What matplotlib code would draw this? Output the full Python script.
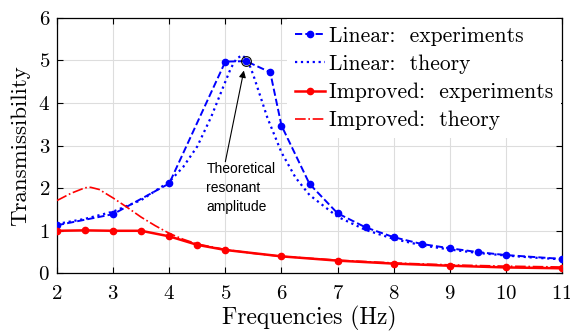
import matplotlib
matplotlib.use("Agg")
import matplotlib.pyplot as plt

# Data
lin_exp_f = [2, 3, 4, 5, 5.37, 5.8, 6, 6.5, 7, 7.5, 8, 8.5, 9, 9.5, 10, 11]
lin_exp_t = [1.13, 1.39, 2.11, 4.97, 4.98, 4.72, 3.47, 2.10, 1.41, 1.08,
             0.85, 0.69, 0.59, 0.50, 0.43, 0.34]

lin_th_f = [2, 2.5, 3, 3.5, 4, 4.25, 4.5, 4.75, 5, 5.1, 5.2, 5.3, 5.4,
            5.5, 5.6, 5.75, 6, 6.25, 6.5, 7, 7.5, 8, 8.5, 9, 9.5, 10,
            10.5, 11]
lin_th_t = [1.16, 1.28, 1.45, 1.72, 2.15, 2.5, 2.98, 3.68, 4.5, 4.82,
            5.04, 5.12, 5.0, 4.65, 4.25, 3.65, 2.84, 2.25, 1.84, 1.33,
            1.02, 0.81, 0.66, 0.56, 0.48, 0.42, 0.37, 0.33]

imp_exp_f = [2, 2.5, 3, 3.5, 4, 4.5, 5, 6, 7, 8, 9, 10, 11]
imp_exp_t = [1.0, 1.01, 1.0, 1.0, 0.87, 0.67, 0.55, 0.40, 0.30, 0.23,
             0.18, 0.14, 0.12]

imp_th_f = [2, 2.25, 2.5, 2.6, 2.75, 3, 3.25, 3.5, 3.75, 4, 4.25, 4.5,
            5, 5.5, 6, 7, 8, 9, 10, 11]
imp_th_t = [1.71, 1.88, 2.01, 2.02, 1.97, 1.77, 1.55, 1.32, 1.12, 0.94,
            0.80, 0.69, 0.56, 0.47, 0.40, 0.31, 0.245, 0.20, 0.17, 0.15]

peak_f, peak_t = 5.37, 4.99

plt.rcParams['font.family'] = 'serif'
plt.rcParams['font.serif'] = ['cmr10']
plt.rcParams['axes.formatter.use_mathtext'] = True
plt.rcParams['mathtext.fontset'] = 'cm'

fig = plt.figure(figsize=(5.7, 3.31), dpi=100)
ax = fig.add_axes([0.1, 0.174, 0.886, 0.7725])

ax.plot(lin_exp_f, lin_exp_t, '--', color='blue', lw=1.4, marker='o',
        ms=4.5, label='Linear:  experiments', zorder=3)
ax.plot(lin_th_f, lin_th_t, ':', color='blue', lw=1.6,
        label='Linear:  theory', zorder=3)
ax.plot(imp_exp_f, imp_exp_t, '-', color='red', lw=1.8, marker='o',
        ms=4.5, label='Improved:  experiments', zorder=3)
ax.plot(imp_th_f, imp_th_t, '-.', color='red', lw=1.2,
        label='Improved:  theory', zorder=3)

# resonant peak marker and note
ax.plot([peak_f], [peak_t], 'o', mfc='none', mec='black', ms=7, mew=0.8,
        zorder=4)
ax.annotate('', xy=(5.33, 4.76), xytext=(5.0, 2.62),
            arrowprops=dict(arrowstyle='-|>', color='black', lw=0.8,
                            mutation_scale=10, shrinkA=0, shrinkB=0))
ax.text(4.66, 2.62, 'Theoretical\nresonant\namplitude',
        family='Liberation Sans', fontsize=10, va='top', ha='left',
        linespacing=1.45)

ax.set_xlim(2, 11)
ax.set_ylim(0, 6)
ax.set_xticks(range(2, 12))
ax.set_yticks(range(0, 7))
ax.grid(True, color='#dddddd', lw=0.8)
ax.set_axisbelow(True)
ax.tick_params(direction='in', top=True, right=True, labelsize=15,
               length=4, width=0.8, pad=5)
ax.tick_params(axis='x', pad=8.5)
for sp in ax.spines.values():
    sp.set_linewidth(0.9)

ax.set_xlabel('Frequencies (Hz)', fontsize=17, labelpad=2)
ax.set_ylabel('Transmissibility', fontsize=16.5, labelpad=6)

leg = ax.legend(loc='upper right', fontsize=15.5, frameon=True,
                fancybox=False, framealpha=1, edgecolor='white',
                borderaxespad=0.05, handlelength=1.4, handletextpad=0.2,
                labelspacing=0.4, borderpad=0.35)
leg.get_frame().set_linewidth(0)

fig.savefig('out.png', dpi=100)
